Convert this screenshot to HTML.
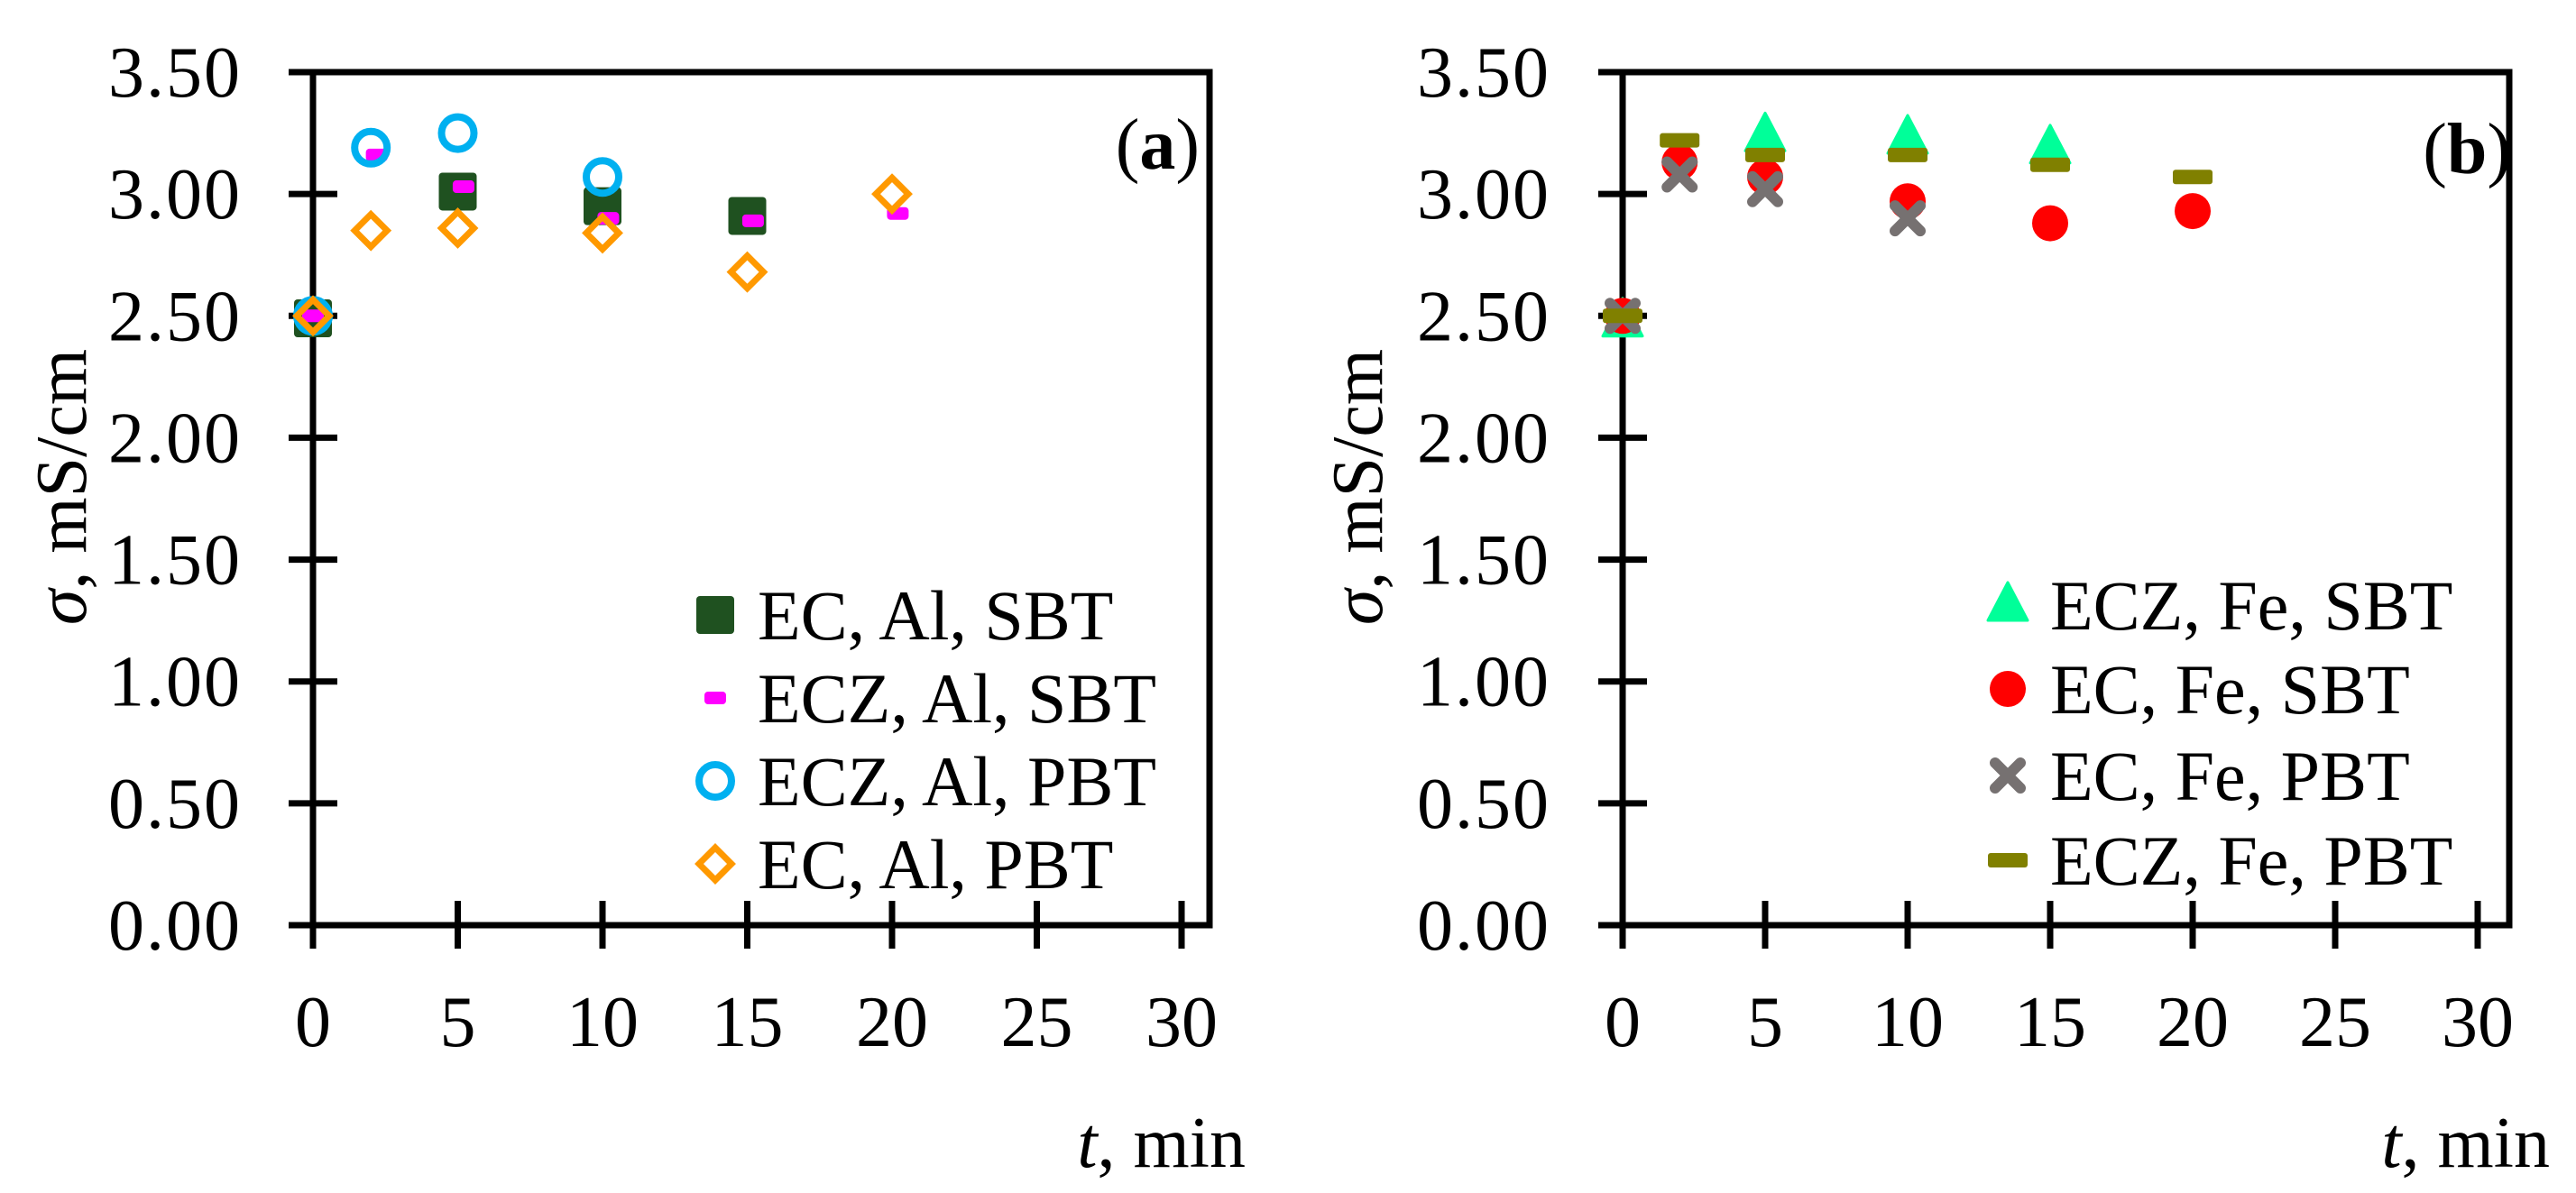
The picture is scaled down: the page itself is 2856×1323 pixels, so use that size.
<!DOCTYPE html>
<html><head><meta charset="utf-8"><style>
html,body{margin:0;padding:0;background:#fff}
svg{display:block}
text{font-family:"Liberation Serif",serif;fill:#000}
</style></head><body>
<svg id="fig" width="2856" height="1323" viewBox="0 0 2856 1323" xmlns="http://www.w3.org/2000/svg"></svg>
<script>
const xTicks=[0,5,10,15,20,25,30];
const yTicks=[0,0.5,1,1.5,2,2.5,3,3.5];
const yTickLabels=["0.00","0.50","1.00","1.50","2.00","2.50","3.00","3.50"];
// Panel a
const aSq_t=[0,5,10,15];            const aSq_v=[2.49,3.01,2.95,2.91];
const aDash_t=[0,2.2,5.2,10.2,15.2,20.2]; const aDash_v=[2.50,3.16,3.03,2.90,2.89,2.92];
const aCirc_t=[0,2,5,10];           const aCirc_v=[2.50,3.19,3.25,3.07];
const aDia_t=[0,2,5,10,15,20];      const aDia_v=[2.50,2.85,2.86,2.84,2.68,3.00];
// Panel b
const bTri_t=[0,5,10,15];           const bTri_v=[2.48,3.24,3.23,3.19];
const bDot_t=[0,2,5,10,15,20];      const bDot_v=[2.50,3.13,3.07,2.97,2.88,2.93];
const bX_t=[0,2,5,10];              const bX_v=[2.50,3.08,3.02,2.90];
const bDash_t=[0,2,5,10,15,20];     const bDash_v=[2.50,3.22,3.16,3.16,3.12,3.07];

const NS="http://www.w3.org/2000/svg";
const svg=document.getElementById('fig');
function mk(tag,attrs,parent){const e=document.createElementNS(NS,tag);for(const k in attrs)e.setAttribute(k,attrs[k]);(parent||svg).appendChild(e);return e;}

function panel(P){
  const g=mk('g',{});
  
  
  const X=t=>P.x0+(P.x30-P.x0)*t/30;
  const Y=v=>1026-(1026-80)*v/3.5;
  const fr=mk('path',{d:`M${P.x0-27},80 H${P.xr} V1026 H${P.x0-27}`,fill:'none',stroke:'#000','stroke-width':7},g);
  
  
  const ya=mk('line',{x1:P.x0,y1:80,x2:P.x0,y2:1052,stroke:'#000','stroke-width':7},g);
  
  
  yTicks.forEach((v,i)=>{
    const tk=mk('line',{x1:P.x0-27,x2:P.x0+27,y1:Y(v),y2:Y(v),stroke:'#000','stroke-width':7},g);
    
    
    const tl=mk('text',{x:P.ylx,y:Y(v)+27,'text-anchor':'end','font-size':80,'letter-spacing':2},g);
    tl.textContent=yTickLabels[i];
    
    
  });
  xTicks.forEach(t=>{
    if(t>0){const tk=mk('line',{x1:X(t),x2:X(t),y1:999,y2:1052,stroke:'#000','stroke-width':7},g);
    
    }
    const tl=mk('text',{x:X(t),y:1160,'text-anchor':'middle','font-size':80},g);
    tl.textContent=String(t);
    
    
  });
  const yt=mk('text',{x:0,y:0,'text-anchor':'middle','font-size':80,transform:`translate(${P.ytx+27},540) rotate(-90)`},g);
  yt.innerHTML='<tspan font-style="italic">σ</tspan>, mS/cm';
  
  
  const xt=mk('text',{x:P.xtx,y:1294,'text-anchor':'end','font-size':80},g);
  xt.innerHTML='<tspan font-style="italic">t</tspan>, min';
  
  
  const pl=mk('text',{x:P.plx,y:P.ply,'text-anchor':'end','font-size':80},g);
  pl.innerHTML='(<tspan font-weight="bold">'+P.letter+'</tspan>)';
  
  
  P.series.forEach(s=>{
    const sg=mk('g',{},g);
    
    
    s.t.forEach((t,i)=>{const m=s.draw(X(t),Y(s.v[i]),sg);
      
      });
    const lg=mk('g',{},g);
    
    
    const lm=s.draw(P.lmx,s.ly,lg);
    
    
    const lt=mk('text',{x:P.ltx,y:s.ly+27,'font-size':78},lg);
    lt.textContent=s.label;
    
    
  });
}
const sq=(x,y,p)=>mk('rect',{x:x-21,y:y-21,width:42,height:42,rx:4,fill:'#1f5120'},p);
const mdash=(x,y,p)=>mk('rect',{x:x-12,y:y-7,width:24,height:14,rx:4,fill:'#ff00ff'},p);
const ocirc=(x,y,p)=>mk('circle',{cx:x,cy:y,r:18,fill:'none',stroke:'#00b0f0','stroke-width':8},p);
const odia=(x,y,p)=>mk('path',{d:`M${x},${y-18}L${x+18},${y}L${x},${y+18}L${x-18},${y}Z`,fill:'none',stroke:'#ff9900','stroke-width':7},p);
const tri=(x,y,p)=>mk('path',{d:`M${x},${y-25}L${x+22},${y+17}L${x-22},${y+17}Z`,fill:'#00ff99','stroke-linejoin':'round',stroke:'#00ff99','stroke-width':3},p);
const dot=(x,y,p)=>mk('circle',{cx:x,cy:y,r:20,fill:'#ff0000'},p);
const xm=(x,y,p)=>mk('path',{d:`M${x-14},${y-14}L${x+14},${y+14}M${x+14},${y-14}L${x-14},${y+14}`,stroke:'#767171','stroke-width':12,'stroke-linecap':'round'},p);
const odash=(x,y,p)=>mk('rect',{x:x-22,y:y-8,width:44,height:16,rx:3,fill:'#808000'},p);

panel({name:'panel-a',letter:'a',x0:347,x30:1310,xr:1341,ylx:268,ytx:68,xtx:1381,plx:1330,ply:187,lmx:793,ltx:840,
 series:[
  {name:'series-ec-al-sbt',label:'EC, Al, SBT',t:aSq_t,v:aSq_v,draw:sq,ly:682},
  {name:'series-ecz-al-sbt',label:'ECZ, Al, SBT',t:aDash_t,v:aDash_v,draw:mdash,ly:774},
  {name:'series-ecz-al-pbt',label:'ECZ, Al, PBT',t:aCirc_t,v:aCirc_v,draw:ocirc,ly:866},
  {name:'series-ec-al-pbt',label:'EC, Al, PBT',t:aDia_t,v:aDia_v,draw:odia,ly:958}
 ]});
panel({name:'panel-b',letter:'b',x0:1799,x30:2747,xr:2782,ylx:1719,ytx:1505,xtx:2827,plx:2784,ply:192,lmx:2226,ltx:2273,
 series:[
  {name:'series-ecz-fe-sbt',label:'ECZ, Fe, SBT',t:bTri_t,v:bTri_v,draw:tri,ly:671},
  {name:'series-ec-fe-sbt',label:'EC, Fe, SBT',t:bDot_t,v:bDot_v,draw:dot,ly:764},
  {name:'series-ec-fe-pbt',label:'EC, Fe, PBT',t:bX_t,v:bX_v,draw:xm,ly:860},
  {name:'series-ecz-fe-pbt',label:'ECZ, Fe, PBT',t:bDash_t,v:bDash_v,draw:odash,ly:954}
 ]});
</script>
</body></html>
